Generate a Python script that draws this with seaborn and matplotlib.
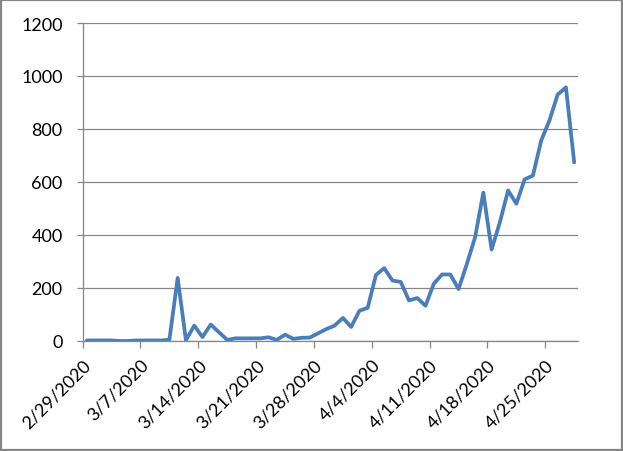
import matplotlib
matplotlib.use("Agg")
import matplotlib.pyplot as plt
import matplotlib.patches as mpatches
import pandas as pd
import seaborn as sns

# Daily values, 2/29/2020 .. 4/28/2020
start_date = "2020-02-29"
values = [
    2, 2, 2, 2, 0, 0, 2, 2, 2, 2,
    5, 238, 3, 58, 15, 62, 33, 4, 10, 10,
    10, 10, 14, 4, 24, 8, 12, 13, 29, 45,
    58, 87, 53, 114, 125, 249, 275, 228, 223, 153,
    162, 133, 216, 251, 251, 196, 290, 391, 560, 345,
    448, 568, 518, 610, 624, 756, 832, 930, 957, 674,
]
y_ticks = [0, 200, 400, 600, 800, 1000, 1200]

dates = pd.date_range(start_date, periods=len(values), freq="D")
# Excel date axis puts each point in the middle of its day
df = pd.DataFrame({"date": dates + pd.Timedelta(hours=12), "value": values})

sns.set_style("white")
plt.rcParams["font.family"] = ["Lato", "DejaVu Sans"]

grey = "#868686"
fig = plt.figure(figsize=(6.23, 4.52), dpi=100)
ax = fig.add_axes([0.1327, 0.2434, 0.7956, 0.7035])

sns.lineplot(data=df, x="date", y="value", color="#4A7EBB", linewidth=2.7, ax=ax)

ax.set_xlim(dates[0], dates[-1] + pd.Timedelta(days=1))
ax.set_ylim(0, 1200)
ax.set_yticks(y_ticks)
ax.yaxis.grid(True, color=grey, linewidth=0.9)
ax.set_axisbelow(True)

tick_dates = dates[::7]
ax.set_xticks(tick_dates)
ax.set_xticklabels([f"{d.month}/{d.day}/{d.year}" for d in tick_dates],
                   rotation=45, ha="right", va="top", rotation_mode="anchor")

for side in ["top", "right"]:
    ax.spines[side].set_visible(False)
for side in ["left", "bottom"]:
    ax.spines[side].set_color(grey)
    ax.spines[side].set_linewidth(0.9)

ax.tick_params(axis="y", direction="out", length=4.5, width=0.9, color=grey,
               pad=10, labelsize=13, labelcolor="black", left=True)
ax.tick_params(axis="x", direction="out", length=5, width=0.9, color=grey,
               pad=6, labelsize=13, labelcolor="black", bottom=True)
ax.set_xlabel("")
ax.set_ylabel("")

# chart area border
fig.patches.append(mpatches.Rectangle((0.002, 0.003), 0.996, 0.994, transform=fig.transFigure,
                                      fill=False, edgecolor=grey, linewidth=1.6))

fig.savefig("out.png", dpi=100)
